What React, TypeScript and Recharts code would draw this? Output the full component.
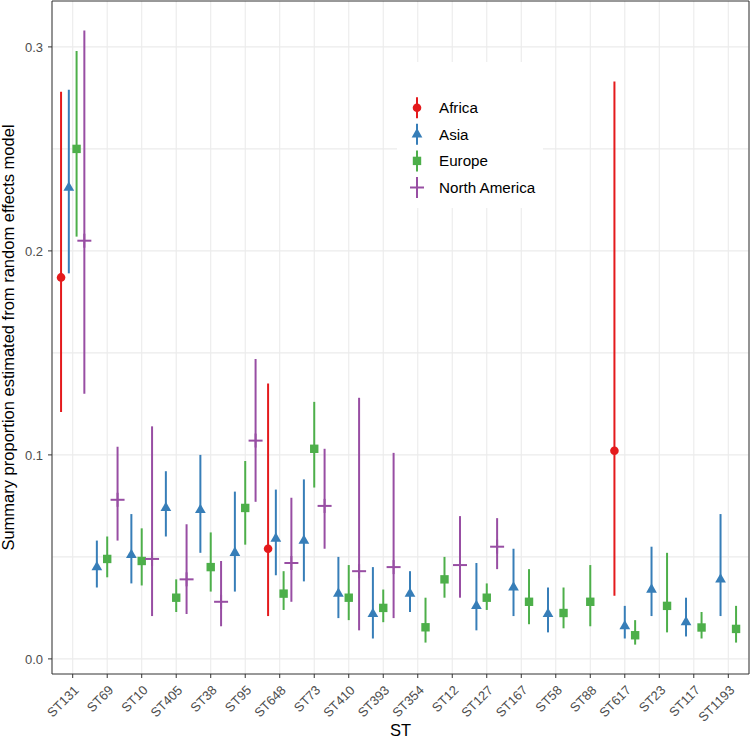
import React from 'react'
import {
  ScatterChart,
  Scatter,
  XAxis,
  YAxis,
  CartesianGrid,
  ErrorBar,
  ReferenceArea,
  Legend,
} from 'recharts'

const ST_CATEGORIES = [
  'ST131', 'ST69', 'ST10', 'ST405', 'ST38', 'ST95', 'ST648', 'ST73', 'ST410', 'ST393',
  'ST354', 'ST12', 'ST127', 'ST167', 'ST58', 'ST88', 'ST617', 'ST23', 'ST117', 'ST1193',
]

const n = null

// point estimates with lower / upper confidence bounds, one slot per ST (null = absent)
const AFRICA_EST = [0.187, n, n, n, n, n, 0.054, n, n, n, n, n, n, n, n, n, 0.102, n, n, n]
const AFRICA_LO = [0.121, n, n, n, n, n, 0.021, n, n, n, n, n, n, n, n, n, 0.031, n, n, n]
const AFRICA_HI = [0.278, n, n, n, n, n, 0.135, n, n, n, n, n, n, n, n, n, 0.283, n, n, n]

const ASIA_EST = [0.231, 0.045, 0.051, 0.074, 0.073, 0.052, 0.059, 0.058, 0.032, 0.022, 0.032, n, 0.026, 0.035, 0.022, n, 0.016, 0.034, 0.018, 0.039]
const ASIA_LO = [0.189, 0.035, 0.037, 0.060, 0.052, 0.033, 0.041, 0.038, 0.020, 0.010, 0.023, n, 0.014, 0.021, 0.013, n, 0.010, 0.021, 0.011, 0.021]
const ASIA_HI = [0.279, 0.058, 0.071, 0.092, 0.100, 0.082, 0.083, 0.088, 0.050, 0.045, 0.043, n, 0.047, 0.054, 0.035, n, 0.026, 0.055, 0.030, 0.071]

const EUROPE_EST = [0.250, 0.049, 0.048, 0.030, 0.045, 0.074, 0.032, 0.103, 0.030, 0.025, 0.0155, 0.039, 0.030, 0.028, 0.0225, 0.028, 0.0116, 0.026, 0.0154, 0.0147]
const EUROPE_LO = [0.207, 0.040, 0.036, 0.023, 0.033, 0.056, 0.024, 0.084, 0.019, 0.018, 0.008, 0.030, 0.024, 0.017, 0.015, 0.016, 0.007, 0.013, 0.010, 0.008]
const EUROPE_HI = [0.298, 0.060, 0.064, 0.039, 0.062, 0.097, 0.043, 0.126, 0.046, 0.034, 0.030, 0.050, 0.037, 0.044, 0.035, 0.046, 0.019, 0.052, 0.023, 0.026]

const NAMERICA_EST = [0.205, 0.078, 0.049, 0.039, 0.028, 0.107, 0.047, 0.075, 0.043, 0.045, n, 0.046, 0.055, n, n, n, n, n, n, n]
const NAMERICA_LO = [0.130, 0.058, 0.021, 0.022, 0.016, 0.077, 0.028, 0.054, 0.014, 0.020, n, 0.030, 0.044, n, n, n, n, n, n, n]
const NAMERICA_HI = [0.308, 0.104, 0.114, 0.066, 0.048, 0.147, 0.079, 0.103, 0.128, 0.101, n, 0.070, 0.069, n, n, n, n, n, n, n]

const Y_TICKS = [0, 0.1, 0.2, 0.3]
const Y_GRID = [0, 0.05, 0.1, 0.15, 0.2, 0.25, 0.3]
const Y_DOMAIN: [number, number] = [-0.0074, 0.3225]

const FONT = '"Liberation Sans", Arial, Helvetica, sans-serif'

type Shape = 'circle' | 'triangle' | 'square' | 'plus'

const REGIONS: { name: string; color: string; shape: Shape; est: (number | null)[]; lo: (number | null)[]; hi: (number | null)[] }[] = [
  { name: 'Africa', color: '#E41A1C', shape: 'circle', est: AFRICA_EST, lo: AFRICA_LO, hi: AFRICA_HI },
  { name: 'Asia', color: '#377EB8', shape: 'triangle', est: ASIA_EST, lo: ASIA_LO, hi: ASIA_HI },
  { name: 'Europe', color: '#4DAF4A', shape: 'square', est: EUROPE_EST, lo: EUROPE_LO, hi: EUROPE_HI },
  { name: 'North America', color: '#984EA3', shape: 'plus', est: NAMERICA_EST, lo: NAMERICA_LO, hi: NAMERICA_HI },
]

// position_dodge(width = 0.9) over the regions present in each ST
const DODGE = 0.9
function buildSeries(regionIdx: number) {
  const r = REGIONS[regionIdx]
  const out: { x: number; y: number; err: [number, number] }[] = []
  ST_CATEGORIES.forEach((_, i) => {
    const v = r.est[i]
    if (v == null) return
    const present = REGIONS.map((g, k) => (g.est[i] != null ? k : -1)).filter(k => k >= 0)
    const cnt = present.length
    const pos = present.indexOf(regionIdx)
    const offset = (pos - (cnt - 1) / 2) * (DODGE / cnt)
    out.push({ x: i + 1 + offset, y: v, err: [v - (r.lo[i] as number), (r.hi[i] as number) - v] })
  })
  return out
}

function Marker({ shape, cx, cy, color, size = 1 }: { shape: Shape; cx: number; cy: number; color: string; size?: number }) {
  if (shape === 'circle') return <circle cx={cx} cy={cy} r={4.3 * size} fill={color} />
  if (shape === 'square') return <rect x={cx - 4.2 * size} y={cy - 4.2 * size} width={8.4 * size} height={8.4 * size} fill={color} />
  if (shape === 'triangle') {
    const r = 6.2 * size
    const h = r * 0.866
    return <polygon points={`${cx},${cy - r} ${cx + h},${cy + r / 2} ${cx - h},${cy + r / 2}`} fill={color} />
  }
  const a = 7 * size
  return (
    <g stroke={color} strokeWidth={2}>
      <line x1={cx - a} y1={cy} x2={cx + a} y2={cy} />
      <line x1={cx} y1={cy - a} x2={cx} y2={cy + a} />
    </g>
  )
}

function XTick({ x, y, payload }: any) {
  const label = ST_CATEGORIES[payload.value - 1]
  const ax = x + 7
  const ay = y + 11
  return (
    <text x={ax} y={ay} transform={`rotate(-45, ${ax}, ${ay})`} textAnchor="end" fontSize={13} fill="#4D4D4D" fontFamily={FONT}>
      {label}
    </text>
  )
}

function YTitle({ viewBox }: any) {
  const cy = viewBox.y + viewBox.height / 2
  const x = 14
  return (
    <text x={x} y={cy} transform={`rotate(-90, ${x}, ${cy})`} textAnchor="middle" fontSize={16.5} fill="#000" fontFamily={FONT}>
      Summary proportion estimated from random effects model
    </text>
  )
}

function XTitle({ viewBox }: any) {
  return (
    <text x={viewBox.x + viewBox.width / 2} y={736} textAnchor="middle" fontSize={16.5} fill="#000" fontFamily={FONT}>
      ST
    </text>
  )
}

function LegendBox() {
  return (
    <svg width={146} height={146} style={{ display: 'block', background: '#fff' }}>
      {REGIONS.map((r, i) => {
        const cy = 45.7 + i * 26.6
        return (
          <g key={r.name}>
            <line x1={20} y1={cy - 10.5} x2={20} y2={cy + 10.5} stroke={r.color} strokeWidth={2} />
            <Marker shape={r.shape} cx={20} cy={cy} color={r.color} />
            <text x={42} y={cy + 5.3} fontSize={15.2} fill="#000" fontFamily={FONT}>{r.name}</text>
          </g>
        )
      })}
    </svg>
  )
}

export default function App() {
  return (
    <div style={{ position: 'absolute', left: 0, top: 0, width: 750, height: 741, background: '#fff' }}>
      <ScatterChart width={750} height={741} margin={{ top: 1, right: 1, bottom: 0, left: 0 }}>
        <CartesianGrid stroke="#EBEBEB" strokeWidth={1.1} horizontalValues={Y_GRID} />
        <XAxis
          type="number"
          dataKey="x"
          domain={[0.4, 20.6]}
          ticks={ST_CATEGORIES.map((_, i) => i + 1)}
          interval={0}
          allowDataOverflow
          height={67}
          axisLine={false}
          tickLine={{ stroke: '#333333' }}
          tickSize={4}
          tick={<XTick />}
          label={<XTitle />}
        />
        <YAxis
          type="number"
          dataKey="y"
          domain={Y_DOMAIN}
          ticks={Y_TICKS}
          allowDataOverflow
          width={52}
          axisLine={false}
          tickLine={{ stroke: '#333333' }}
          tickSize={4}
          tickMargin={5}
          tickFormatter={(v: number) => v.toFixed(1)}
          tick={{ fontSize: 13, fill: '#4D4D4D', fontFamily: FONT }}
          label={<YTitle />}
        />
        <ReferenceArea x1={0.4} x2={20.6} y1={Y_DOMAIN[0]} y2={Y_DOMAIN[1]} fill="none" stroke="#333333" strokeWidth={1} ifOverflow="visible" />
        {REGIONS.map((r, idx) => (
          <Scatter
            key={r.name}
            name={r.name}
            data={buildSeries(idx)}
            fill={r.color}
            isAnimationActive={false}
            shape={(p: any) => <Marker shape={r.shape} cx={p.cx} cy={p.cy} color={r.color} />}
          >
            <ErrorBar dataKey="err" direction="y" width={0} stroke={r.color} strokeWidth={2} />
          </Scatter>
        ))}
        <Legend
          layout="vertical"
          align="center"
          verticalAlign="middle"
          content={<LegendBox />}
          wrapperStyle={{ left: 397, top: 62, width: 146, height: 146 }}
        />
      </ScatterChart>
    </div>
  )
}
